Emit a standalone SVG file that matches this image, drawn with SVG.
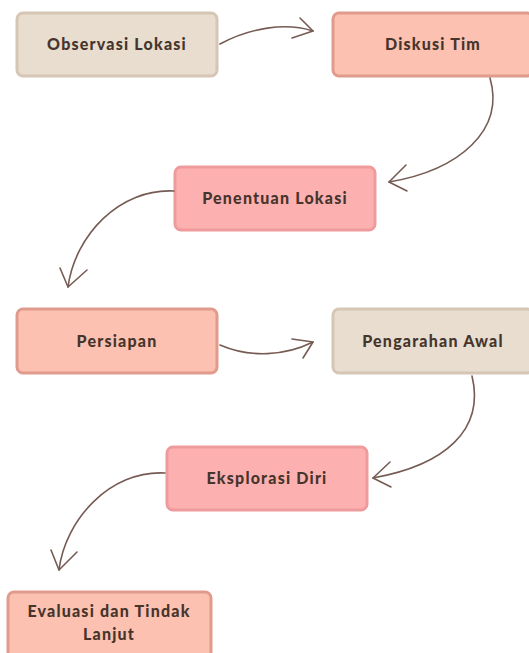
<svg xmlns="http://www.w3.org/2000/svg" width="529" height="653" viewBox="0 0 529 653">
<style>
.box{stroke-width:3}
.beige{fill:#e8ddcf;stroke:#d5c6b5}
.salmon{fill:#fdc1b1;stroke:#e09b8c}
.pink{fill:#fdb0b0;stroke:#ef9a9c}
.lbl{font-family:"Lato","Liberation Sans",sans-serif;font-weight:900;font-size:16px;letter-spacing:1.2px;fill:#46352c;text-anchor:middle}
.con{fill:none;stroke:#765b54;stroke-width:1.6;stroke-linecap:round;stroke-linejoin:round}
</style>
<rect width="529" height="653" fill="#ffffff"/>
<g id="n1"><rect class="box beige" x="17" y="13" width="200" height="63" rx="6"/><text class="lbl" x="117" y="49.5">Observasi Lokasi</text></g>
<g id="n2"><rect class="box salmon" x="333" y="13" width="200" height="63" rx="6"/><text class="lbl" x="433" y="49.5">Diskusi Tim</text></g>
<g id="n3"><rect class="box pink" x="175" y="167" width="200" height="63" rx="6"/><text class="lbl" x="275" y="203.5">Penentuan Lokasi</text></g>
<g id="n4"><rect class="box salmon" x="17" y="309" width="200" height="64" rx="6"/><text class="lbl" x="117" y="346.5">Persiapan</text></g>
<g id="n5"><rect class="box beige" x="333" y="309" width="200" height="64" rx="6"/><text class="lbl" x="433" y="346.5">Pengarahan Awal</text></g>
<g id="n6"><rect class="box pink" x="167" y="447" width="200" height="63" rx="6"/><text class="lbl" x="267" y="483.5">Eksplorasi Diri</text></g>
<g id="n7"><rect class="box salmon" x="8" y="592" width="203" height="66" rx="6"/><text class="lbl" x="109" y="616.5">Evaluasi dan Tindak</text><text class="lbl" x="109" y="639.5">Lanjut</text></g>
<g id="connectors">
<path class="con" d="M220,44 C250,28 285,22 313,31"/><path class="con" d="M300,18 L313,31 L292,38"/>
<path class="con" d="M490,78 C505,130 460,170 389,182"/><path class="con" d="M406,165 L389,182 L407,191"/>
<path class="con" d="M174,191 C120,188 75,235 68,287"/><path class="con" d="M60,268 L68,287 L87,270"/>
<path class="con" d="M220,345 C250,358 285,356 313,342"/><path class="con" d="M292,339 L313,342 L303,358"/>
<path class="con" d="M472,376 C485,430 445,465 373,478"/><path class="con" d="M390,462 L373,478 L391,487"/>
<path class="con" d="M165,473 C110,470 65,520 59,570"/><path class="con" d="M51,550 L59,570 L77,552"/>
</g>
</svg>
